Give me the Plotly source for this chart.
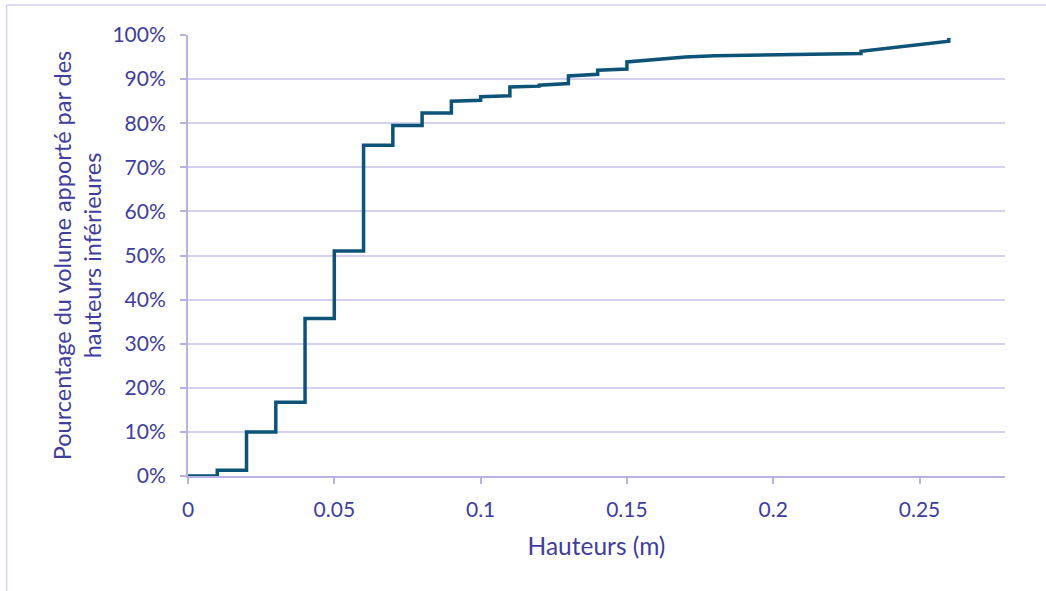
"""Cumulative volume share by height, stepped curve."""

import plotly.graph_objects as go

TEXT_COLOR = "#403d9c"
LINE_COLOR = "#0d5377"
GRID_COLOR = "#d4d0ee"
AXIS_COLOR = "#b8b3e3"
FONT = "Lato, 'Open Sans', sans-serif"

hauteurs = [
    0.0, 0.01, 0.01, 0.02, 0.02, 0.03, 0.03, 0.04, 0.04, 0.05, 0.05, 0.06,
    0.06, 0.07, 0.07, 0.08, 0.08, 0.09, 0.09, 0.10, 0.10, 0.11, 0.11, 0.12,
    0.12, 0.13, 0.13, 0.14, 0.14, 0.15, 0.15, 0.16, 0.17, 0.18, 0.19, 0.20,
    0.21, 0.22, 0.23, 0.23, 0.24, 0.25, 0.26, 0.26,
]
pourcentage = [
    0.0, 0.0, 0.013, 0.013, 0.100, 0.100, 0.167, 0.167, 0.357, 0.357, 0.510, 0.510,
    0.750, 0.750, 0.795, 0.795, 0.823, 0.823, 0.850, 0.852, 0.860, 0.862, 0.882, 0.884,
    0.886, 0.890, 0.907, 0.911, 0.920, 0.923, 0.939, 0.945, 0.950, 0.953, 0.954, 0.955,
    0.956, 0.957, 0.958, 0.963, 0.971, 0.979, 0.986, 0.993,
]

x_ticks = [0, 0.05, 0.1, 0.15, 0.2, 0.25]
x_tick_labels = ["0", "0.05", "0.1", "0.15", "0.2", "0.25"]

fig = go.Figure()
fig.add_trace(
    go.Scatter(
        x=hauteurs,
        y=pourcentage,
        mode="lines",
        line={"color": LINE_COLOR, "width": 3.5},
        showlegend=False,
        hoverinfo="skip",
    )
)

fig.update_layout(
    width=1046,
    height=591,
    margin={"l": 188, "r": 41, "t": 35, "b": 115},
    paper_bgcolor="white",
    plot_bgcolor="white",
    font={"family": FONT, "color": TEXT_COLOR, "size": 21},
    xaxis={
        "range": [0, 0.2792],
        "tickvals": x_ticks,
        "ticktext": x_tick_labels,
        "showgrid": False,
        "zeroline": False,
        "showline": True,
        "linecolor": AXIS_COLOR,
        "linewidth": 2,
        "ticks": "outside",
        "ticklen": 6,
        "tickwidth": 2,
        "tickcolor": AXIS_COLOR,
        "tickfont": {"size": 21},
        "ticklabelstandoff": 8,
        "title": {"text": "Hauteurs (m)", "font": {"size": 24.5}, "standoff": 18},
    },
    yaxis={
        "range": [0, 1.0],
        "dtick": 0.1,
        "tickformat": ".0%",
        "showgrid": True,
        "gridcolor": GRID_COLOR,
        "gridwidth": 2,
        "zeroline": False,
        "showline": True,
        "linecolor": AXIS_COLOR,
        "linewidth": 2,
        "ticks": "outside",
        "ticklen": 6,
        "tickwidth": 2,
        "tickcolor": AXIS_COLOR,
        "tickfont": {"size": 21},
        "ticklabelstandoff": 10,
        "title": {
            "text": "Pourcentage du volume apporté par des<br>hauteurs inférieures",
            "font": {"size": 23.5},
            "standoff": 4,
        },
    },
    shapes=[
        {
            "type": "line", "xref": "paper", "yref": "paper",
            "x0": -0.222, "x1": 1.06, "y0": 1.068, "y1": 1.068,
            "line": {"color": GRID_COLOR, "width": 1.5},
        },
        {
            "type": "line", "xref": "paper", "yref": "paper",
            "x0": -0.222, "x1": -0.222, "y0": 1.068, "y1": -0.3,
            "line": {"color": GRID_COLOR, "width": 1.5},
        },
    ],
)

fig.write_html(
    "out.html",
    config={"displayModeBar": False},
    post_script="document.body.style.margin = '0';",
)
